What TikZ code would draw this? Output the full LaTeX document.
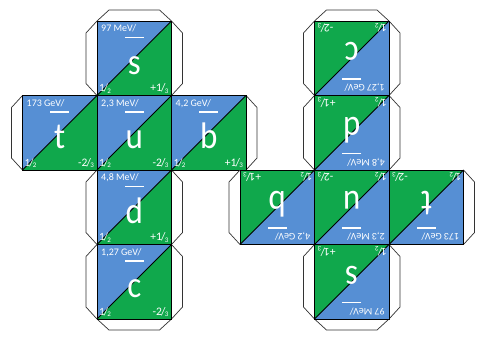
\documentclass[tikz,border=0pt]{standalone}
\usepackage{fontspec}
\setmainfont{Carlito}
\definecolor{qblue}{RGB}{86,143,212}
\definecolor{qgreen}{RGB}{16,168,76}
\newcommand\qfr[2]{#1\kern-0.08em/\kern-0.06em\raisebox{-0.15em}{\fontsize{7}{7}\selectfont #2}}
\def\qs{74.5}
\def\qd{11}
\def\qc{12}
\tikzset{
  edge/.style={draw=black, line width=0.9pt},
  flap/.style={draw=black!80, line width=0.7pt, fill=white},
  qbar/.style={draw=white, line width=1.7pt},
  qletter/.style={anchor=base, text=white, inner sep=0pt, font=\fontsize{33}{33}\selectfont},
  qmass/.style={anchor=north west, text=white, inner sep=0pt, font=\fontsize{10}{10}\selectfont},
  qspin/.style={anchor=south west, text=white, inner sep=0pt, font=\fontsize{11}{11}\selectfont},
  qcharge/.style={anchor=south east, text=white, inner sep=0pt, font=\fontsize{11.5}{11.5}\selectfont},
}
% faces: #1 name, #2 x, #3 y, #4 letter, #5 mass, #6 charge
\newcommand\qface[6]{%
\begin{scope}[shift={(#2,#3)}]
\fill[qblue] (0,0) -- (\qs,0) -- (0,\qs) -- cycle;
\fill[qgreen] (\qs,0) -- (\qs,\qs) -- (0,\qs) -- cycle;
\draw[edge] (0,\qs) -- (\qs,0);
\draw[edge] (0,0) rectangle (\qs,\qs);
\draw[qbar] ({\qs/2-9.5},16.5) -- ({\qs/2+9.5},16.5);
\node[qletter] (#1-l) at ({\qs/2},53) {\scalebox{1}[1.12]{#4}};
\node[qmass] (#1-m) at (4,3.5) {#5};
\node[qspin] (#1-s) at (2,{\qs-2}) {\qfr12};
\node[qcharge] (#1-c) at ({\qs-3},{\qs-2}) {#6};
\end{scope}}
\newcommand\flapL[2]{\draw[flap,shift={(#1,#2)}] (0,0) -- (-\qd,\qc) -- (-\qd,{\qs-\qc}) -- (0,\qs);}
\newcommand\flapR[2]{\draw[flap,shift={(#1,#2)}] (\qs,0) -- ({\qs+\qd},\qc) -- ({\qs+\qd},{\qs-\qc}) -- (\qs,\qs);}
\newcommand\flapT[2]{\draw[flap,shift={(#1,#2)}] (0,0) -- (\qc,-\qd) -- ({\qs-\qc},-\qd) -- (\qs,0);}
\newcommand\flapB[2]{\draw[flap,shift={(#1,#2)}] (0,\qs) -- (\qc,{\qs+\qd}) -- ({\qs-\qc},{\qs+\qd}) -- (\qs,\qs);}
% whole net, #1 prefix
\newcommand\qnet[1]{%
\flapL{97}{21}\flapT{97}{21}\flapR{97}{21}
\flapL{22.5}{95.5}
\flapR{171.5}{95.5}
\flapL{97}{170}\flapR{97}{170}
\flapL{97}{244.5}\flapR{97}{244.5}\flapB{97}{244.5}
\qface{#1s}{97}{21}{s}{97 MeV/}{+\qfr13}
\qface{#1t}{22.5}{95.5}{t}{173 GeV/}{-\qfr23}
\qface{#1u}{97}{95.5}{u}{2,3 MeV/}{-\qfr23}
\qface{#1b}{171.5}{95.5}{b}{4,2 GeV/}{+\qfr13}
\qface{#1d}{97}{170}{d}{4,8 MeV/}{+\qfr13}
\qface{#1c}{97}{244.5}{c}{1,27 GeV/}{-\qfr23}
}
\begin{document}
\begin{tikzpicture}[x=1pt,y=-1pt]
\fill[white] (0,0) rectangle (479,341);
\useasboundingbox (0,0) rectangle (479,341);
\qnet{a}
\begin{scope}[rotate around={180:(243,170)}, transform shape]
\qnet{b}
\end{scope}
\end{tikzpicture}
\end{document}
